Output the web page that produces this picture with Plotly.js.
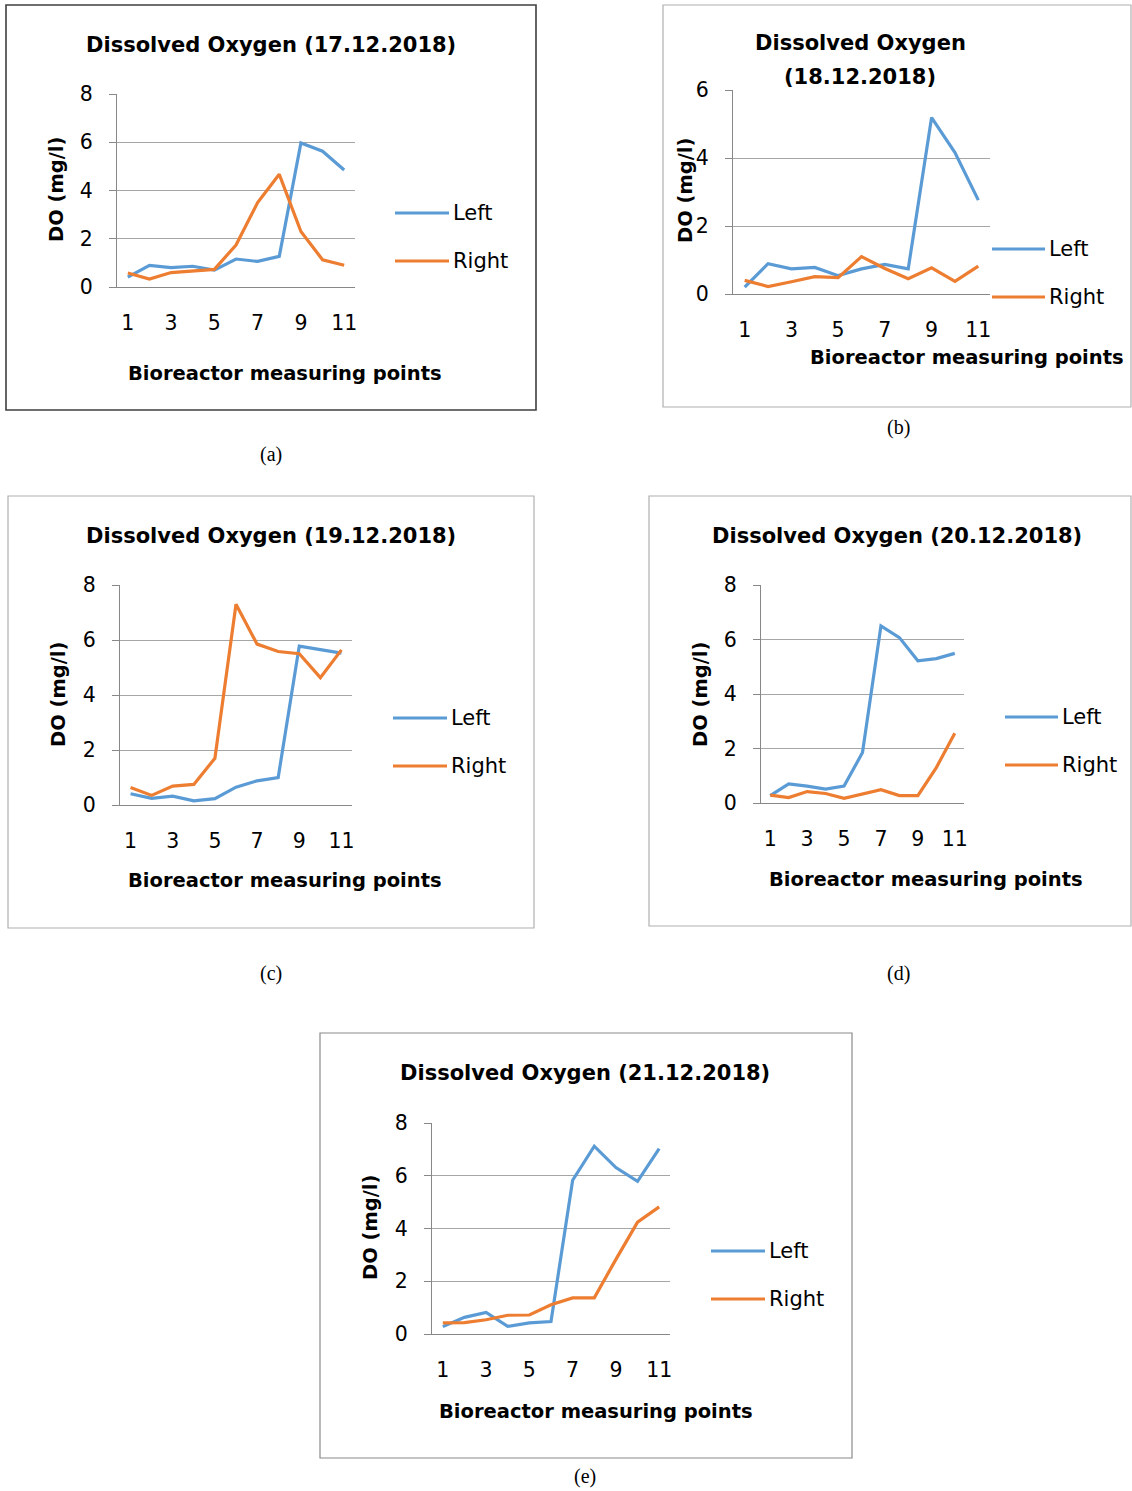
<!DOCTYPE html>
<html>
<head>
<meta charset="utf-8">
<script src="https://cdn.plot.ly/plotly-3.0.1.min.js"></script>
<style>
html,body{margin:0;padding:0;background:#fff;}
#chart{width:1132px;height:1491px;}
</style>
</head>
<body>
<div id="chart"></div>
<script>
// ---------- DATA ----------
const categories = [1, 2, 3, 4, 5, 6, 7, 8, 9, 10, 11];
const xTickVals = [1, 3, 5, 7, 9, 11];
const xTickLabels = ['1', '3', '5', '7', '9', '11'];
const seriesNames = ['Left', 'Right'];

const leftA  = [0.41, 0.90, 0.80, 0.86, 0.70, 1.16, 1.06, 1.27, 5.97, 5.63, 4.85];
const rightA = [0.58, 0.33, 0.60, 0.68, 0.73, 1.74, 3.50, 4.67, 2.30, 1.13, 0.90];

const leftB  = [0.20, 0.89, 0.74, 0.78, 0.54, 0.74, 0.87, 0.74, 5.19, 4.16, 2.76];
const rightB = [0.40, 0.22, 0.36, 0.51, 0.48, 1.10, 0.75, 0.45, 0.77, 0.37, 0.82];

const leftC  = [0.41, 0.24, 0.32, 0.15, 0.23, 0.65, 0.88, 1.00, 5.78, 5.65, 5.52];
const rightC = [0.64, 0.35, 0.69, 0.75, 1.70, 7.30, 5.85, 5.58, 5.50, 4.63, 5.64];

const leftD  = [0.27, 0.70, 0.62, 0.51, 0.62, 1.85, 6.50, 6.07, 5.22, 5.30, 5.49];
const rightD = [0.29, 0.20, 0.42, 0.35, 0.17, 0.33, 0.49, 0.27, 0.27, 1.30, 2.56];

const leftE  = [0.28, 0.63, 0.82, 0.29, 0.42, 0.47, 5.83, 7.12, 6.31, 5.79, 7.03];
const rightE = [0.42, 0.43, 0.54, 0.71, 0.72, 1.11, 1.37, 1.37, 2.83, 4.24, 4.82];

const titles = [
  ['Dissolved Oxygen (17.12.2018)'],
  ['Dissolved Oxygen', '(18.12.2018)'],
  ['Dissolved Oxygen (19.12.2018)'],
  ['Dissolved Oxygen (20.12.2018)'],
  ['Dissolved Oxygen (21.12.2018)']
];
const captions = ['(a)', '(b)', '(c)', '(d)', '(e)'];
const yMax = [8, 6, 8, 8, 8];
const yTitle = 'DO (mg/l)';
const xTitle = 'Bioreactor measuring points';

const leftSeries = [leftA, leftB, leftC, leftD, leftE];
const rightSeries = [rightA, rightB, rightC, rightD, rightE];

// ---------- LAYOUT (pixels) ----------
const W = 1132, H = 1491;
const panels = [
  {box:[6,5,536,410], boxColor:'#3f3f3f', boxW:1.6, plot:[117,94,355,287], title:[271,[45]], ytitle:[57,190], xtitle:[285,374], leg:[395,449,213,261], cap:[271,455]},
  {box:[663,5,1131,407], boxColor:'#b0b0b0', boxW:1.2, plot:[733,90,990,294], title:[860,[43,77]], ytitle:[685,191], xtitle:[967,357], leg:[992,1045,249,297], cap:[898,428]},
  {box:[8,496,534,928], boxColor:'#b0b0b0', boxW:1.2, plot:[120,585,352,805], title:[271,[536]], ytitle:[58,695], xtitle:[285,881], leg:[393,447,718,766], cap:[271,973]},
  {box:[649,496,1131,926], boxColor:'#b0b0b0', boxW:1.2, plot:[761,585,964,803], title:[897,[536]], ytitle:[700,695], xtitle:[926,879], leg:[1005,1058,717,765], cap:[898,973]},
  {box:[320,1033,852,1458], boxColor:'#8a8a8a', boxW:1.2, plot:[432,1123,670,1334], title:[585,[1073]], ytitle:[370,1228], xtitle:[596,1411], leg:[711,765,1251,1299], cap:[585,1476]}
];

const FONT = '"DejaVu Sans", Verdana, sans-serif';
const BLUE = '#5B9BD5', ORANGE = '#ED7D31';
const px = x => x / W;
const py = y => 1 - y / H;

const data = [];
const layout = {
  width: W, height: H,
  margin: {l:0, r:0, t:0, b:0},
  paper_bgcolor: '#fff', plot_bgcolor: 'rgba(0,0,0,0)',
  showlegend: false,
  font: {family: FONT, size: 20, color: '#000'},
  shapes: [], annotations: []
};

panels.forEach((p, i) => {
  const n = i + 1;
  const xa = 'x' + (n === 1 ? '' : n);
  const ya = 'y' + (n === 1 ? '' : n);
  data.push({x: categories, y: leftSeries[i], name: seriesNames[0], type: 'scatter', mode: 'lines',
    line: {color: BLUE, width: 3.2}, xaxis: xa, yaxis: ya, hoverinfo: 'x+y'});
  data.push({x: categories, y: rightSeries[i], name: seriesNames[1], type: 'scatter', mode: 'lines',
    line: {color: ORANGE, width: 3.2}, xaxis: xa, yaxis: ya, hoverinfo: 'x+y'});

  const xk = 'xaxis' + (n === 1 ? '' : n);
  const yk = 'yaxis' + (n === 1 ? '' : n);
  layout[xk] = {
    domain: [px(p.plot[0]), px(p.plot[2])], anchor: ya,
    range: [0.5, 11.5], fixedrange: true,
    tickmode: 'array', tickvals: xTickVals, ticktext: xTickLabels,
    showgrid: false, zeroline: false, showline: true, linecolor: '#888', linewidth: 1.3,
    ticks: '', ticklabelstandoff: 17, tickfont: {family: FONT, size: 20.5, color: '#000'}
  };
  layout[yk] = {
    domain: [py(p.plot[3]), py(p.plot[1])], anchor: xa,
    range: [0, yMax[i]], dtick: 2, fixedrange: true,
    showgrid: true, gridcolor: '#a6a6a6', gridwidth: 1.2,
    zeroline: false, showline: true, linecolor: '#888', linewidth: 1.3,
    ticks: 'outside', ticklen: 7, tickcolor: '#888', tickwidth: 1.2,
    ticklabelstandoff: 12, tickfont: {family: FONT, size: 20.5, color: '#000'}
  };

  // frame
  layout.shapes.push({type:'rect', xref:'paper', yref:'paper', x0:px(p.box[0]), x1:px(p.box[2]), y0:py(p.box[3]), y1:py(p.box[1]),
    line:{color:p.boxColor, width:p.boxW}, fillcolor:'rgba(0,0,0,0)'});
  // legend keys
  const [lx0, lx1, ly1, ly2] = p.leg;
  layout.shapes.push({type:'line', xref:'paper', yref:'paper', x0:px(lx0), x1:px(lx1), y0:py(ly1), y1:py(ly1), line:{color:BLUE, width:3.2}});
  layout.shapes.push({type:'line', xref:'paper', yref:'paper', x0:px(lx0), x1:px(lx1), y0:py(ly2), y1:py(ly2), line:{color:ORANGE, width:3.2}});
  layout.annotations.push({xref:'paper', yref:'paper', x:px(lx1+2), y:py(ly1), text:seriesNames[0], showarrow:false, xanchor:'left', yanchor:'middle', font:{family:FONT, size:21, color:'#000'}});
  layout.annotations.push({xref:'paper', yref:'paper', x:px(lx1+2), y:py(ly2), text:seriesNames[1], showarrow:false, xanchor:'left', yanchor:'middle', font:{family:FONT, size:21, color:'#000'}});
  // title (one annotation per line)
  titles[i].forEach((t, k) => {
    layout.annotations.push({xref:'paper', yref:'paper', x:px(p.title[0]), y:py(p.title[1][k]), text:'<b>' + t + '</b>', showarrow:false, xanchor:'center', yanchor:'middle', font:{family:FONT, size:21, color:'#000'}});
  });
  // axis titles
  layout.annotations.push({xref:'paper', yref:'paper', x:px(p.ytitle[0]), y:py(p.ytitle[1]), text:'<b>' + yTitle + '</b>', textangle:-90, showarrow:false, xanchor:'center', yanchor:'middle', font:{family:FONT, size:19.5, color:'#000'}});
  layout.annotations.push({xref:'paper', yref:'paper', x:px(p.xtitle[0]), y:py(p.xtitle[1]), text:'<b>' + xTitle + '</b>', showarrow:false, xanchor:'center', yanchor:'middle', font:{family:FONT, size:19.5, color:'#000'}});
  // caption
  layout.annotations.push({xref:'paper', yref:'paper', x:px(p.cap[0]), y:py(p.cap[1]), text:captions[i], showarrow:false, xanchor:'center', yanchor:'middle', font:{family:'"Liberation Serif", "Times New Roman", serif', size:20, color:'#000'}});
});

Plotly.newPlot('chart', data, layout, {displayModeBar: false, responsive: false});
</script>
</body>
</html>
